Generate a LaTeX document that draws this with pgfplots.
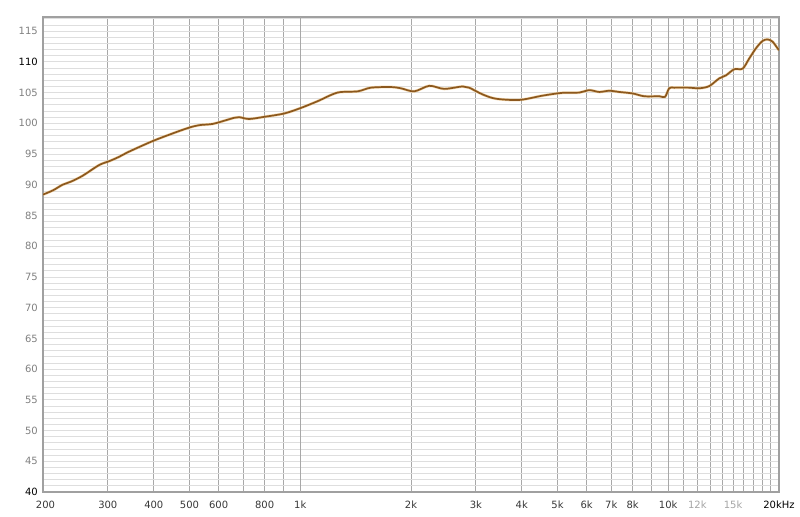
\documentclass[border=0pt]{standalone}
\usepackage{pgfplots}
\pgfplotsset{compat=1.18}
\usepackage{fontspec}
\setmainfont{DejaVu Sans}
\definecolor{curve}{RGB}{140,88,30}
\definecolor{halo}{RGB}{235,190,120}
\definecolor{vgrid}{RGB}{168,168,168}
\definecolor{vgriddark}{RGB}{100,100,100}
\definecolor{hgrid}{RGB}{222,222,222}
\definecolor{lab}{RGB}{128,128,128}
\definecolor{xlab}{RGB}{55,55,55}
\definecolor{lightlab}{RGB}{165,165,165}
\definecolor{frame}{RGB}{160,160,160}
\begin{document}
\begin{tikzpicture}
\begin{axis}[
  scale only axis, width=736bp, height=475bp,
  at={(43bp,25bp)}, anchor=south west,
  xmode=log, xmin=200, xmax=20000, ymin=40, ymax=117.3,
  xtick={200,300,400,500,600,800,1000,2000,3000,4000,5000,6000,7000,8000,10000,12000,15000,20000},
  xticklabels={\hspace*{5bp}200,300,400,500,600,800,1k,2k,3k,4k,5k,6k,7k,8k,10k,\textcolor{lightlab}{12k},\textcolor{lightlab}{15k},\textcolor{black}{20kHz}},
  minor xtick={700,900,9000,11000,13000,14000,16000,17000,18000,19000},
  extra x ticks={1000,10000},
  extra x tick labels={},
  extra x tick style={grid=major, major grid style={vgriddark, line width=0.8pt}},
  ytick={40,45,50,55,60,65,70,75,80,85,90,95,100,105,110,115},
  yticklabels={\textcolor{black}{40},45,50,55,60,65,70,75,80,85,90,95,100,105,\textcolor{black}{110},115},
  minor ytick={41,42,43,44,46,47,48,49,51,52,53,54,56,57,58,59,61,62,63,64,66,67,68,69,71,72,73,74,76,77,78,79,81,82,83,84,86,87,88,89,91,92,93,94,96,97,98,99,101,102,103,104,106,107,108,109,111,112,113,114,116,117},
  xmajorgrids, xminorgrids, ymajorgrids, yminorgrids,
  x grid style={vgrid, line width=0.8pt},
  y grid style={hgrid, line width=0.75pt},
  major tick length=0pt, minor tick length=0pt,
  tick style={draw=none},
  axis line style={frame, line width=1.5bp},
  ticklabel style={font=\fontsize{10bp}{12bp}\selectfont},
  xticklabel style={anchor=north, inner sep=0pt, yshift=-9bp, text height=7.3bp, text=xlab},
  yticklabel style={anchor=east, inner sep=0pt, xshift=-5bp, text=lab},
  clip=true,
]
\addplot[halo, line width=2.8pt, smooth, opacity=0.6] coordinates {
(200,88.4) (213,89.1) (226,90.0) (238,90.5) (256,91.45) (284,93.2) (303,93.85) (322,94.55) (343,95.4) (397,97.1) (450,98.35) (499,99.3) (532,99.7) (578,99.9) (628,100.5) (662,100.9) (683,101.0) (726,100.7) (798,101.05) (905,101.6) (1004,102.5) (1115,103.6) (1263,105.0) (1432,105.2) (1556,105.8) (1764,105.9) (1877,105.7) (2041,105.2) (2243,106.1) (2462,105.6) (2761,106.0) (2877,105.8) (3130,104.7) (3404,104.0) (3937,103.8) (4554,104.5) (5160,104.96) (5730,105.0) (6100,105.4) (6494,105.1) (6914,105.3) (7358,105.1) (8000,104.86) (8610,104.4) (9460,104.4) (9800,104.3) (10060,105.7) (10380,105.8) (11400,105.8) (12140,105.7) (12920,106.05) (13750,107.3) (14350,107.8) (15110,108.8) (15930,108.9) (16600,110.55) (17310,112.2) (18040,113.4) (18620,113.65) (19200,113.3) (19820,112.2) (20000,111.9)
};
\addplot[curve, line width=1.7pt, smooth] coordinates {
(200,88.4) (213,89.1) (226,90.0) (238,90.5) (256,91.45) (284,93.2) (303,93.85) (322,94.55) (343,95.4) (397,97.1) (450,98.35) (499,99.3) (532,99.7) (578,99.9) (628,100.5) (662,100.9) (683,101.0) (726,100.7) (798,101.05) (905,101.6) (1004,102.5) (1115,103.6) (1263,105.0) (1432,105.2) (1556,105.8) (1764,105.9) (1877,105.7) (2041,105.2) (2243,106.1) (2462,105.6) (2761,106.0) (2877,105.8) (3130,104.7) (3404,104.0) (3937,103.8) (4554,104.5) (5160,104.96) (5730,105.0) (6100,105.4) (6494,105.1) (6914,105.3) (7358,105.1) (8000,104.86) (8610,104.4) (9460,104.4) (9800,104.3) (10060,105.7) (10380,105.8) (11400,105.8) (12140,105.7) (12920,106.05) (13750,107.3) (14350,107.8) (15110,108.8) (15930,108.9) (16600,110.55) (17310,112.2) (18040,113.4) (18620,113.65) (19200,113.3) (19820,112.2) (20000,111.9)
};
\node[anchor=base east, inner sep=0pt, text=black!85, font=\fontsize{10bp}{12bp}\selectfont, xshift=-5bp, yshift=5bp] at (rel axis cs:0,1) {SPL};
\end{axis}
\path (0,0) rectangle (800bp,517bp);
\end{tikzpicture}
\end{document}
